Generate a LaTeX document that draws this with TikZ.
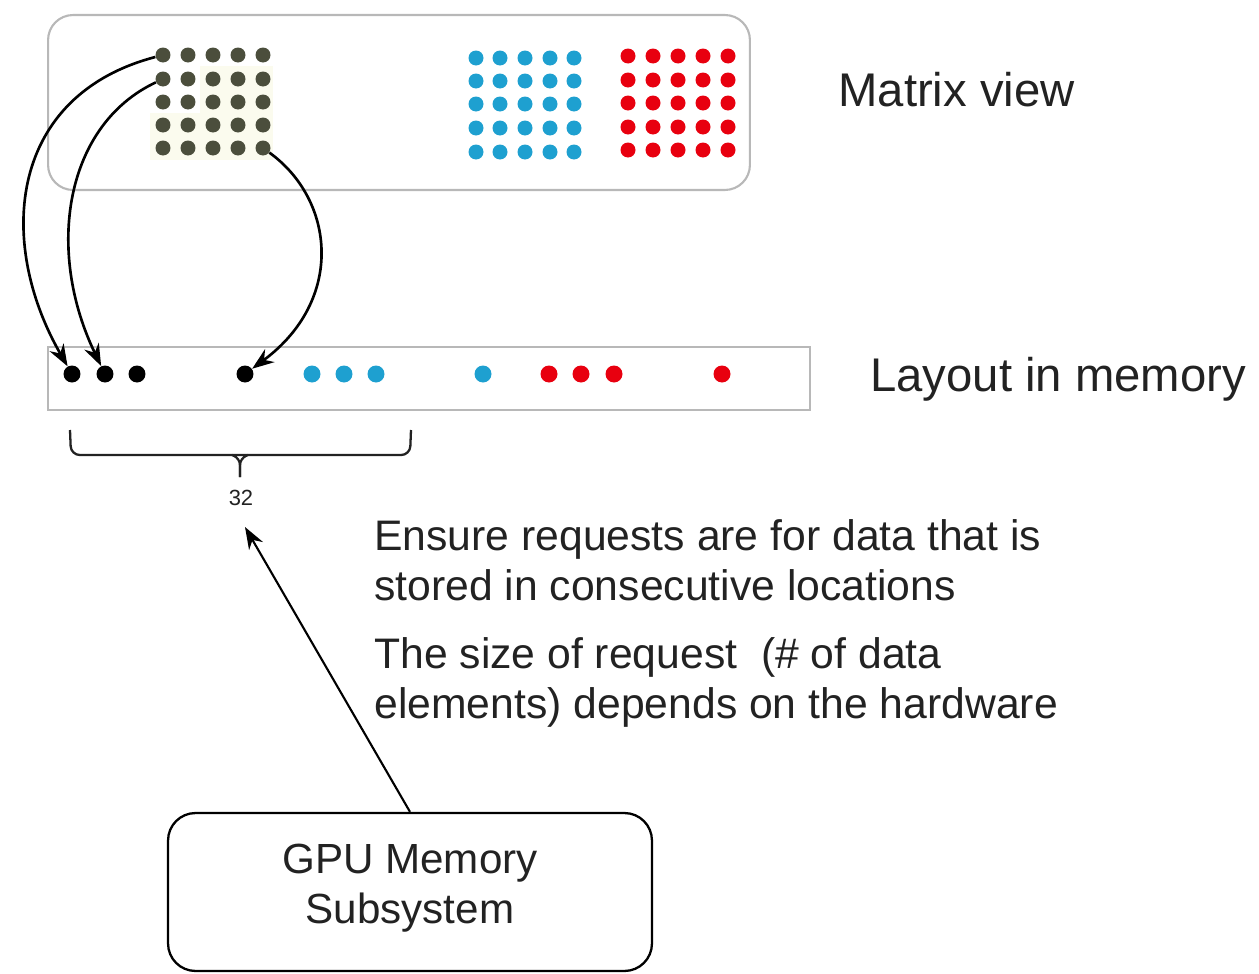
\documentclass[tikz,border=0pt]{standalone}
\usepackage{fontspec}
\setmainfont{Liberation Sans}
\usetikzlibrary{arrows.meta}
\definecolor{txt}{HTML}{222222}
\definecolor{olive}{HTML}{4B4E3C}
\definecolor{cyandot}{HTML}{1EA0D0}
\definecolor{reddot}{HTML}{E8000F}
\definecolor{frame}{HTML}{B8B8B8}
\definecolor{patch}{HTML}{FBFBEE}
\tikzset{
  dot/.style={circle,inner sep=0pt,minimum size=0.34cm},
  gdot/.style={dot,fill=olive,minimum size=0.30cm},
  cdot/.style={dot,fill=cyandot,minimum size=0.30cm},
  rdot/.style={dot,fill=reddot,minimum size=0.30cm},
  kdot/.style={dot,fill=black},
  mcdot/.style={dot,fill=cyandot},
  mrdot/.style={dot,fill=reddot},
  arr/.style={-{Stealth[length=0.44cm,width=0.32cm]},line width=1.5pt,black},
  bigtxt/.style={font=\fontsize{26.9}{30}\selectfont,text=txt,inner sep=0pt,anchor=base west},
  bodytxt/.style={font=\fontsize{24.3}{29.5}\selectfont,text=txt,inner sep=0pt,anchor=base west},
  boxtxt/.style={font=\fontsize{24}{29}\selectfont,text=txt,inner sep=0pt,anchor=base}
}
\begin{document}
\begin{tikzpicture}[x=0.02cm,y=-0.02cm]
\useasboundingbox (0,0) rectangle (1259,974);

% matrix view frame
\node[draw=frame,line width=1.2pt,rounded corners=0.5cm,minimum width=14.04cm,minimum height=3.5cm,inner sep=0pt] (matrixbox) at (399,102.5) {};

% faint highlight behind part of the first block
\fill[patch] (200,66) rectangle (273,160);
\fill[patch] (150,113) rectangle (200,160);

% three 5x5 blocks of elements
\foreach \r/\gy/\cy/\ry in {1/55/58/56,2/79/81/80,3/102/104/103,4/125/128/127,5/148/152/150}{
  \foreach \c/\gx/\cx/\rx in {1/163/476/628,2/188/500/653,3/213/525/678,4/238/550/703,5/263/574/728}{
    \node[gdot] (g\r\c) at (\gx,\gy) {};
    \node[cdot] (c\r\c) at (\cx,\cy) {};
    \node[rdot] (r\r\c) at (\rx,\ry) {};
  }
}
\node[bigtxt] (mv) at (838,106) {Matrix view};

% linear memory layout
\node[draw=frame,line width=1.2pt,minimum width=15.24cm,minimum height=1.26cm,inner sep=0pt] (membar) at (429,378.5) {};
\node[kdot] (m1) at (72,374) {};
\node[kdot] (m2) at (105,374) {};
\node[kdot] (m3) at (137,374) {};
\node[kdot] (m4) at (245,374) {};
\node[mcdot] (m5) at (312,374) {};
\node[mcdot] (m6) at (344,374) {};
\node[mcdot] (m7) at (376,374) {};
\node[mcdot] (m8) at (483,374) {};
\node[mrdot] (m9) at (549,374) {};
\node[mrdot] (m10) at (581,374) {};
\node[mrdot] (m11) at (614,374) {};
\node[mrdot] (m12) at (722,374) {};
\node[bigtxt] (lm) at (870,391) {Layout in memory};

% element to memory mapping
\draw[arr] (g11) .. controls (10,95) and (-5,240) .. (m1);
\draw[arr] (g21) .. controls (65,125) and (45,250) .. (m2);
\draw[arr] (g55) .. controls (335,200) and (345,300) .. (m4);

% brace spanning one request
\draw[line width=1.3pt,txt,rounded corners=5pt] (70,430) -- (71,455) -- (410,455) -- (411,430);
\draw[line width=1.3pt,txt,rounded corners=4pt] (232,455) -- (240,458) -- (240,477);
\draw[line width=1.3pt,txt,rounded corners=4pt] (248,455) -- (240,458) -- (240,477);
\node[font=\fontsize{12.5}{14}\selectfont,text=txt,inner sep=1pt] (n32) at (241,498) {32};

% explanatory text
\node[bodytxt] (t1) at (374,550) {Ensure requests are for data that is};
\node[bodytxt] (t2) at (374,600) {stored in consecutive locations};
\node[bodytxt] (t3) at (374,668) {The size of request\ \ (\# of data};
\node[bodytxt] (t4) at (374,718) {elements) depends on the hardware};

% memory subsystem
\node[draw=black,line width=1.3pt,rounded corners=0.55cm,minimum width=9.68cm,minimum height=3.16cm,inner sep=0pt] (gpu) at (410,892) {};
\node[boxtxt] (gpu1) at (410,873) {GPU Memory};
\node[boxtxt] (gpu2) at (410,923) {Subsystem};
\coordinate (req) at (245,527);
\draw[arr,line width=1.2pt] (gpu.north) -- (req);
\end{tikzpicture}
\end{document}
